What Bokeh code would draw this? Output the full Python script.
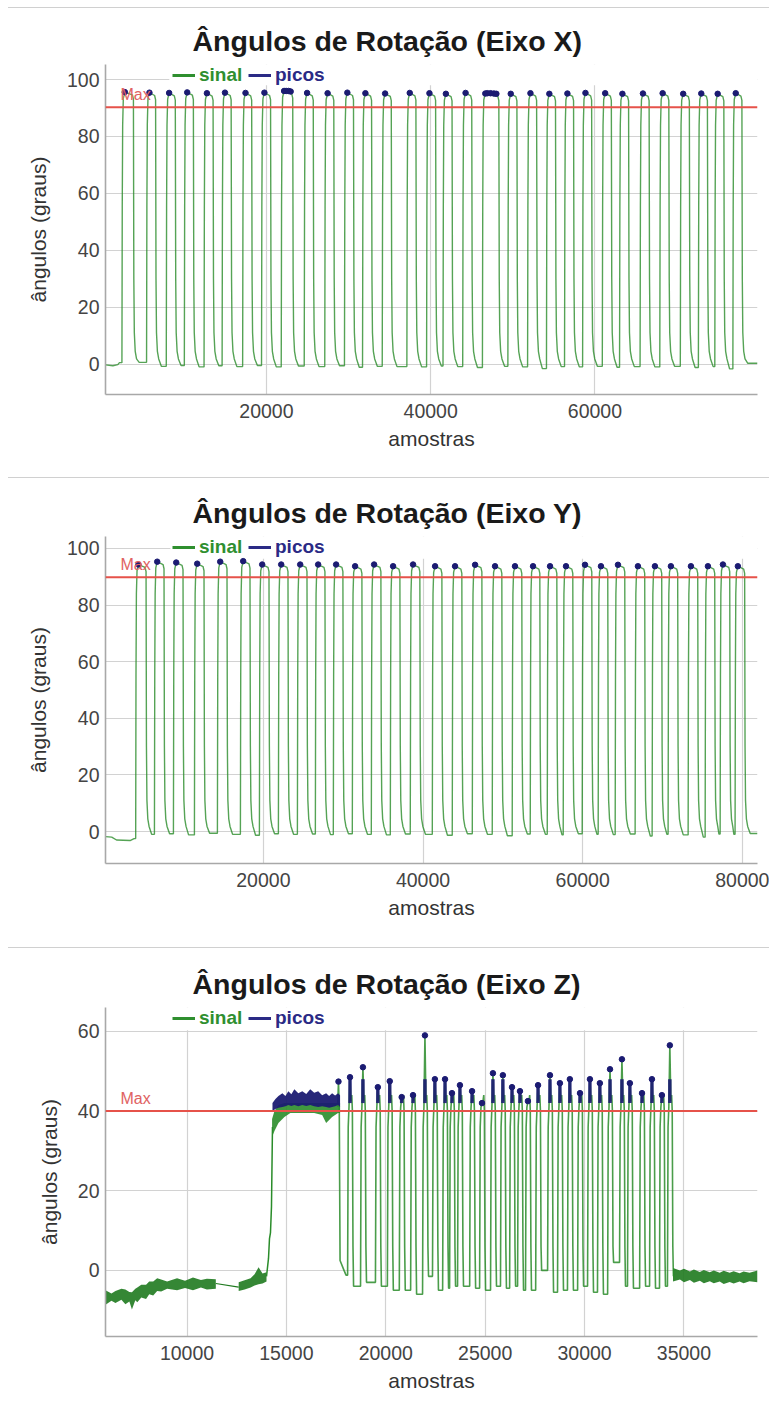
from bokeh.plotting import figure
from bokeh.models import Range1d, Legend, LegendItem, Label, Span, BoxAnnotation, Div
from bokeh.layouts import column
from bokeh.embed import file_html
from bokeh.resources import INLINE

# ---------------- texts ----------------
TITLES = ["Ângulos de Rotação (Eixo X)", "Ângulos de Rotação (Eixo Y)", "Ângulos de Rotação (Eixo Z)"]
X_LABEL = "amostras"
Y_LABEL = "ângulos (graus)"
LEGEND_LABELS = ["sinal", "picos"]
MAX_LABEL = "Max"

# ---------------- panel 1 (Eixo X) ----------------
P1_XRANGE = [400, 79800]
P1_YRANGE = [-10.7, 105.3]
P1_XTICKS = [20000, 40000, 60000]
P1_YTICKS = [0, 20, 40, 60, 80, 100]
P1_MAX = 90.3
P1_START_X = [400, 1300, 1900, 2100]
P1_START_Y = [-0.3, -0.6, -0.2, 0.5]
P1_END_X = [79800]
P1_END_Y = [0.3]
P1_RISE = [2400, 5400, 7800, 10000, 12400, 14600, 17100, 19400, 21800, 24600,
           27100, 29500, 31700, 34100, 37100, 39500, 41500, 43900, 46300, 49400,
           51800, 54100, 56300, 58500, 60900, 63000, 65500, 67900, 70400, 72600,
           74600, 76800]
P1_FALL = [3800, 6500, 8900, 11100, 13500, 15700, 18200, 20500, 23200, 25700,
           28200, 30600, 32800, 35200, 38200, 40600, 42600, 45000, 48300, 50500,
           52900, 55200, 57400, 59600, 62000, 64100, 66600, 69000, 71500, 73700,
           75700, 77900]
P1_PEAK = [95.6, 95.4, 95.3, 95.5, 95.2, 95.4, 95.3, 95.4, 96.0, 95.3,
           95.2, 95.4, 95.2, 95.1, 95.3, 95.2, 95.0, 95.3, 95.1, 95.0,
           95.2, 95.0, 95.1, 95.3, 95.2, 95.0, 95.1, 95.2, 95.0, 95.1,
           95.0, 95.2]
P1_TROUGH = [0.6, -0.8, -0.5, -1.0, -0.6, -0.9, -0.5, -1.0, -0.7, -0.9,
             -0.6, -1.1, -0.8, -0.9, -1.0, -0.7, -0.9, -1.2, -0.8, -1.0,
             -1.6, -0.9, -1.0, -0.8, -1.1, -0.9, -1.0, -0.8, -1.2, -0.9,
             -1.7, 0.3]
P1_PICO_EXTRA_X = [22400, 22700, 22950, 46900, 47300, 47700, 48000]
P1_PICO_EXTRA_Y = [96.0, 96.0, 95.8, 95.2, 95.2, 95.1, 95.0]

# ---------------- panel 2 (Eixo Y) ----------------
P2_XRANGE = [220, 81900]
P2_YRANGE = [-11.3, 104.2]
P2_XTICKS = [20000, 40000, 60000, 80000]
P2_YTICKS = [0, 20, 40, 60, 80, 100]
P2_MAX = 89.8
P2_START_X = [220, 1000, 1600, 3300, 3800]
P2_START_Y = [-1.8, -2.0, -3.0, -3.2, -2.5]
P2_END_X = [81900]
P2_END_Y = [-0.7]
P2_RISE = [4000, 6350, 8730, 11360, 14240, 17120, 19500, 21880, 24260, 26510,
           28760, 31140, 33520, 35900, 38400, 41160, 43660, 46170, 48670, 51170,
           53430, 55560, 57560, 59940, 61940, 64070, 66570, 68700, 70700, 73210,
           75340, 77220, 79090]
P2_FALL = [5300, 7550, 9930, 12560, 15440, 18320, 20700, 23080, 25460, 27710,
           29960, 32340, 34720, 37100, 39600, 42360, 44860, 47370, 49870, 52370,
           54630, 56760, 58760, 61140, 63140, 65270, 67770, 69900, 71900, 74410,
           76540, 78420, 80290]
P2_PEAK = [94.3, 95.3, 95.0, 94.6, 95.3, 95.5, 94.3, 94.3, 94.3, 94.3,
           94.3, 93.7, 94.3, 93.7, 94.3, 93.7, 93.7, 94.2, 93.7, 93.7,
           93.7, 93.7, 93.7, 94.2, 93.7, 94.2, 93.7, 93.7, 93.7, 93.7,
           93.7, 94.3, 93.7]
P2_TROUGH = [-1.0, -0.8, -1.2, -0.6, -1.0, -1.3, -0.8, -1.0, -0.9, -1.1,
             -0.8, -1.0, -1.2, -0.9, -1.0, -1.3, -0.8, -1.0, -1.5, -0.9,
             -1.0, -1.2, -0.8, -1.0, -1.1, -0.9, -1.6, -1.0, -1.2, -2.0,
             -0.9, -1.0, -0.7]

# ---------------- panel 3 (Eixo Z) ----------------
P3_XRANGE = [5900, 38700]
P3_YRANGE = [-16.6, 66.0]
P3_XTICKS = [10000, 15000, 20000, 25000, 30000, 35000]
P3_YTICKS = [0, 20, 40, 60]
P3_MAX = 40
# noisy resting segment at the start (envelope of the noise band)
P3_NA_X = [5900, 6200, 6400, 6700, 6900, 7100, 7230, 7400, 7500, 7700, 7940, 8100, 8300, 8500,
           8700, 9000, 9500, 9900, 10300, 10700, 11000, 11450]
P3_NA_LO = [-8.6, -7.6, -8.2, -7.4, -8.5, -7.8, -9.8, -7.5, -8.0, -6.8, -7.2, -6.0, -6.3, -5.2,
            -5.3, -4.6, -5.0, -4.4, -5.0, -4.3, -4.8, -4.6]
P3_NA_HI = [-5.0, -5.8, -5.2, -4.6, -4.8, -5.4, -5.5, -4.6, -4.3, -3.6, -3.6, -2.8, -2.8, -2.0,
            -2.3, -2.8, -2.0, -2.6, -1.8, -2.4, -2.1, -2.2]
# straight segment with no samples
P3_GAP_X = [11450, 12600]
P3_GAP_Y = [-3.3, -4.2]
# second noisy resting segment
P3_NB_X = [12600, 12900, 13200, 13400, 13600, 13800, 14000]
P3_NB_LO = [-5.2, -4.8, -4.3, -3.8, -3.5, -3.3, -2.8]
P3_NB_HI = [-3.0, -2.5, -2.0, -1.0, 0.8, -0.8, -0.5]
# rise to the held position
P3_UP_X = [14000, 14100, 14150, 14200, 14250, 14300]
P3_UP_Y = [-1.5, 3.0, 8.0, 9.5, 16.0, 36.0]
# held position (signal envelope and peaks envelope)
P3_HOLD_X = [14280, 14400, 14600, 14900, 15200, 15600, 16000, 16400, 16800, 17000, 17300, 17600, 17700]
P3_HOLD_LO = [33.5, 35.0, 37.0, 38.5, 39.5, 39.5, 39.5, 39.5, 39.0, 37.0, 38.5, 39.5, 39.5]
P3_HOLD_HI = [38.0, 40.0, 41.5, 42.0, 42.0, 42.0, 42.0, 42.0, 42.0, 42.0, 42.0, 42.0, 42.0]
P3_HPK_X = [14300, 14450, 14600, 14800, 14950, 15100, 15250, 15400, 15600, 15800, 16000, 16200,
            16400, 16600, 16800, 17000, 17150, 17300, 17450, 17600, 17700]
P3_HPK_LO = [40.0, 40.5, 40.8, 41.0, 41.2, 41.5, 41.3, 41.5, 41.2, 41.5, 41.3, 41.5,
             41.2, 41.0, 41.2, 41.0, 40.8, 41.0, 41.2, 41.5, 41.0]
P3_HPK_HI = [42.0, 43.0, 43.8, 44.5, 43.8, 45.0, 44.2, 45.5, 44.5, 45.0, 44.3, 45.5,
             44.6, 45.0, 44.0, 44.5, 43.8, 44.5, 43.9, 44.5, 44.0]
# end of the held position and drop
P3_DROP_X = [17580, 17620, 17660, 17700, 17900, 18000]
P3_DROP_Y = [41.0, 47.4, 41.0, 2.5, 0.0, -1.2]
P3_DROP_PICO_X = [17620]
P3_DROP_PICO_Y = [47.4]
# fast repetitions
P3_PEAK_X = [18200, 18850, 19600, 20200, 20800, 21370, 21970, 22470, 22980, 23330,
             23730, 24340, 24840, 25390, 25890, 26350, 26750, 27150, 27660, 28260,
             28760, 29260, 29770, 30270, 30770, 31280, 31880, 32280, 32890, 33390,
             33890, 34290]
P3_PEAK = [48.5, 51.0, 46.0, 47.5, 43.5, 44.0, 59.0, 48.0, 48.0, 44.5,
           46.5, 45.0, 42.0, 49.5, 49.0, 46.0, 45.0, 42.5, 46.5, 49.0,
           47.0, 48.0, 44.5, 48.0, 47.0, 50.5, 53.0, 47.0, 44.5, 48.0,
           44.0, 56.5]
P3_TROUGH = [-4.0, -3.0, -4.0, -5.0, -5.0, -6.0, -1.5, -5.0, -4.5, -4.0,
             -4.0, -4.5, -5.0, -4.0, -4.5, -4.0, -5.0, -5.0, 0.0, -5.5,
             -5.0, -5.0, -4.0, -5.5, -6.0, 2.0, -4.0, -4.5, -4.0, -4.5,
             -4.0, -1.5]
# noisy resting segment at the end
P3_NC_X = [34450, 34800, 35000, 35300, 35500, 35800, 36000, 36300, 36500, 36800, 37000, 37300,
           37500, 37800, 38000, 38300, 38700]
P3_NC_LO = [-2.8, -2.3, -3.0, -2.4, -3.1, -2.6, -3.2, -2.7, -3.2, -2.8, -3.4, -2.9,
            -3.3, -2.8, -3.2, -2.7, -3.0]
P3_NC_HI = [0.6, 0.0, 0.4, -0.3, 0.2, -0.4, 0.1, -0.5, 0.0, -0.6, -0.1, -0.6,
            -0.2, -0.7, -0.3, -0.6, 0.0]

# ---------------- style ----------------
GREEN = "#2a8c2a"
DARK_GREEN = "#1f7a1f"
NAVY = "#1b1b72"
LEG_GREEN = "#2f8f2f"
LEG_NAVY = "#2a2a85"
RED = "#e6524a"
FONT = "Liberation Sans"


def build_wave(sx, sy, rises, falls, peaks, troughs, ex, ey):
    xs, ys = list(sx), list(sy)
    pk_x, pk_y = [], []
    prev = sy[-1]
    n = len(rises)
    for i in range(n):
        r, f, pk, t = rises[i], falls[i], peaks[i], troughs[i]
        nxt = rises[i + 1] if i + 1 < n else ex[0]
        xs += [r, r + 40, r + 90, r + 170, r + 350, f - 120, f, f + 50, f + 110, f + 220, f + 380]
        ys += [prev, 55, 84, pk - 2.2, pk, pk - 1.0, pk - 2.5, 30, 11, 4.5, 1.8]
        lo_start = min(f + 700, nxt - 150)
        xs += [lo_start, nxt - 30]
        ys += [t, t]
        pk_x.append(r + 350)
        pk_y.append(pk)
        prev = t
    xs += list(ex)
    ys += list(ey)
    return xs, ys, pk_x, pk_y


def make_fig(title, height, top, frame_h, xr, yr, xticks, yticks):
    p = figure(width=769, height=height, x_range=Range1d(*xr), y_range=Range1d(*yr),
               output_backend="svg", toolbar_location=None, title=title,
               min_border_left=105, min_border_right=12, min_border_top=top,
               min_border_bottom=height - top - frame_h)
    p.outline_line_color = None
    p.background_fill_color = "white"
    p.border_fill_color = "white"
    p.title.text_font = FONT
    p.title.text_font_size = "28.5px"
    p.title.text_font_style = "bold"
    p.title.text_color = "#1a1a1a"
    p.title.align = "left"
    p.title.offset = 87
    p.title.standoff = 16
    p.xaxis.ticker = xticks
    p.yaxis.ticker = yticks
    for ax in (p.xaxis[0], p.yaxis[0]):
        ax.axis_line_color = "#a8a8a8"
        ax.axis_line_width = 1.6
        ax.major_tick_line_color = None
        ax.minor_tick_line_color = None
        ax.major_tick_out = 0
        ax.major_tick_in = 0
        ax.major_label_text_font = FONT
        ax.major_label_text_font_size = "19.5px"
        ax.major_label_text_color = "#444444"
        ax.axis_label_text_font = FONT
        ax.axis_label_text_font_size = "21px"
        ax.axis_label_text_font_style = "normal"
        ax.axis_label_text_color = "#333333"
    p.xaxis.major_label_standoff = 9
    p.yaxis.major_label_standoff = 6
    p.xaxis.axis_label = X_LABEL
    p.yaxis.axis_label = Y_LABEL
    p.xaxis.axis_label_standoff = 6
    p.yaxis.axis_label_standoff = 14
    p.grid.grid_line_color = "#d2d2d2"
    p.grid.grid_line_width = 1.2
    return p


def decorate(p, max_val, xr, box_left, box_bottom, frame_h):
    box = BoxAnnotation(left=box_left, bottom=box_bottom, fill_color="white", fill_alpha=1.0,
                        line_color=None, level="underlay")
    p.add_layout(box)
    p.add_layout(Span(location=max_val, dimension="width", line_color=RED, line_width=2))
    p.add_layout(Label(x=xr[0] + 0.023 * (xr[1] - xr[0]), y=max_val, y_offset=4, text=MAX_LABEL,
                       text_color="#e06262", text_font=FONT, text_font_size="16px",
                       text_baseline="bottom"))
    far = xr[0] - 10 * (xr[1] - xr[0])
    r_s = p.line([far, far + 1], [0, 0], line_color=LEG_GREEN, line_width=3)
    r_p = p.line([far, far + 1], [0, 0], line_color=LEG_NAVY, line_width=3)
    for rend, lab, col, xloc in ((r_s, LEGEND_LABELS[0], LEG_GREEN, 67), (r_p, LEGEND_LABELS[1], LEG_NAVY, 143)):
        leg = Legend(items=[LegendItem(label=lab, renderers=[rend])], location=(xloc, frame_h - 22),
                     orientation="horizontal", border_line_color=None, background_fill_alpha=0,
                     padding=0, margin=0, glyph_width=23, glyph_height=20, label_standoff=4,
                     label_height=20, label_text_font=FONT, label_text_font_size="19px",
                     label_text_font_style="bold", label_text_color=col)
        p.add_layout(leg, "center")


# ---------- panel 1 ----------
p1 = make_fig(TITLES[0], 469, 56, 330, P1_XRANGE, P1_YRANGE, P1_XTICKS, P1_YTICKS)
x1, y1, k1x, k1y = build_wave(P1_START_X, P1_START_Y, P1_RISE, P1_FALL, P1_PEAK, P1_TROUGH, P1_END_X, P1_END_Y)
p1.line(x1, y1, line_color=GREEN, line_width=1.4, line_alpha=0.8)
p1.scatter(k1x + P1_PICO_EXTRA_X, k1y + P1_PICO_EXTRA_Y, size=5.5, fill_color=NAVY, line_color=NAVY)
decorate(p1, P1_MAX, P1_XRANGE, 8170, 98.0, 330)

# ---------- panel 2 ----------
p2 = make_fig(TITLES[1], 469, 58, 327, P2_XRANGE, P2_YRANGE, P2_XTICKS, P2_YTICKS)
x2, y2, k2x, k2y = build_wave(P2_START_X, P2_START_Y, P2_RISE, P2_FALL, P2_PEAK, P2_TROUGH, P2_END_X, P2_END_Y)
p2.line(x2, y2, line_color=GREEN, line_width=1.4, line_alpha=0.8)
p2.scatter(k2x, k2y, size=5.5, fill_color=NAVY, line_color=NAVY)
decorate(p2, P2_MAX, P2_XRANGE, 8356, 96.3, 327)

# ---------- panel 3 ----------
p3 = make_fig(TITLES[2], 454, 59, 329, P3_XRANGE, P3_YRANGE, P3_XTICKS, P3_YTICKS)
p3.varea(P3_NA_X, P3_NA_LO, P3_NA_HI, fill_color=DARK_GREEN, fill_alpha=0.9)
p3.varea(P3_NB_X, P3_NB_LO, P3_NB_HI, fill_color=DARK_GREEN, fill_alpha=0.9)
p3.varea(P3_NC_X, P3_NC_LO, P3_NC_HI, fill_color=DARK_GREEN, fill_alpha=0.9)
p3.line(P3_GAP_X, P3_GAP_Y, line_color=DARK_GREEN, line_width=1.2)
p3.line(P3_UP_X, P3_UP_Y, line_color=GREEN, line_width=1.5)
p3.varea(P3_HOLD_X, P3_HOLD_LO, P3_HOLD_HI, fill_color=GREEN, fill_alpha=0.9)

zx, zy = list(P3_DROP_X), list(P3_DROP_Y)
prev = P3_DROP_Y[-1]
seg_x0, seg_y0, seg_y1 = [], [], []
for xp, pk, t in zip(P3_PEAK_X, P3_PEAK, P3_TROUGH):
    zx += [xp - 120, xp - 90, xp - 50, xp, xp + 50, xp + 90, xp + 120, xp + 150, xp + 180]
    zy += [prev, 36, 41, pk, 42.5, 44, 40, 6, t]
    seg_x0.append(xp)
    seg_y0.append(42)
    seg_y1.append(min(pk, 48))
    prev = t
zx += [P3_NC_X[0]]
zy += [P3_TROUGH[-1]]
p3.line(zx, zy, line_color=GREEN, line_width=1.6, line_alpha=0.85)

p3.varea(P3_HPK_X, P3_HPK_LO, P3_HPK_HI, fill_color=NAVY, fill_alpha=0.95)
p3.segment(seg_x0, seg_y0, seg_x0, seg_y1, line_color=NAVY, line_width=3.5, line_alpha=0.9)
p3.scatter(P3_PEAK_X + P3_DROP_PICO_X, P3_PEAK + P3_DROP_PICO_Y, size=5.5, fill_color=NAVY, line_color=NAVY)
decorate(p3, P3_MAX, P3_XRANGE, 9145, 60.3, 329)


def sep(top):
    return Div(text="", width=761, height=1, margin=(top, 0, 0, 8),
               styles={"background-color": "#d0d0d0"})


layout = column(sep(7), p1, sep(0), p2, sep(0), p3, spacing=0)
open("out.html", "w").write(file_html(layout, INLINE))
